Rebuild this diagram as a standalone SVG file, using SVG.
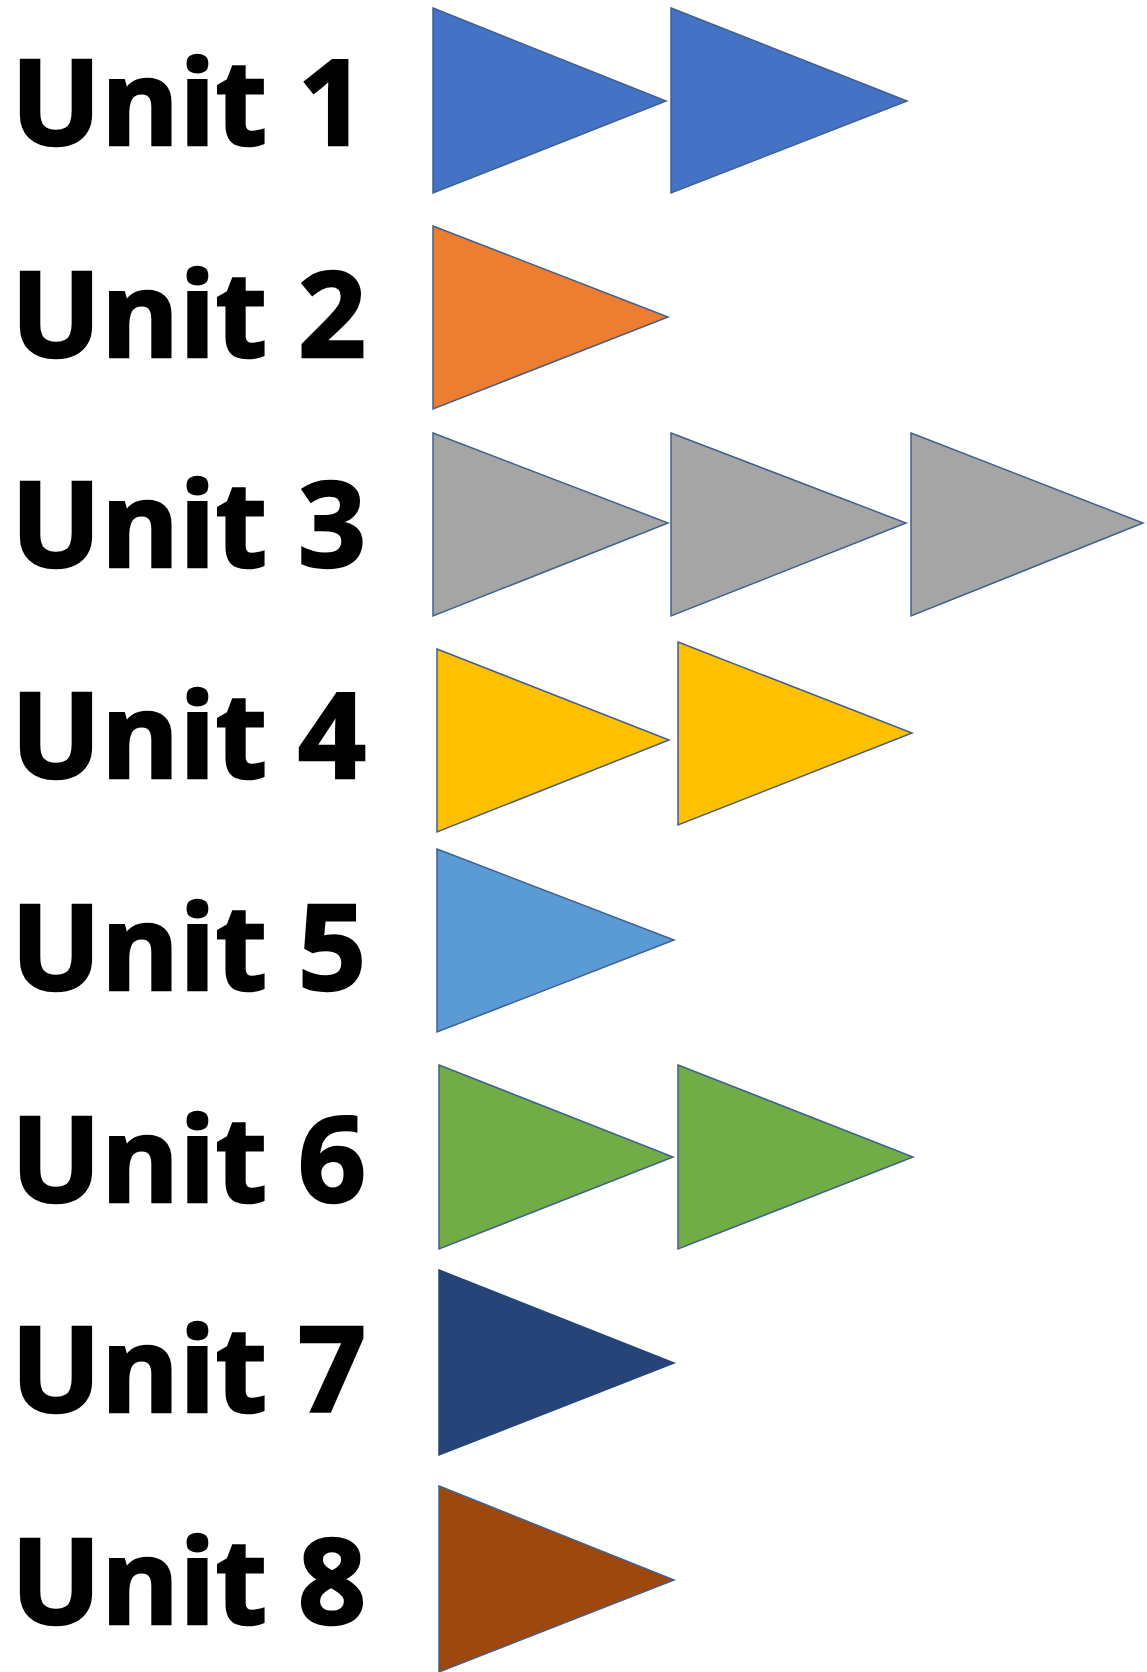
<svg xmlns="http://www.w3.org/2000/svg" width="1147" height="1672" viewBox="0 0 1147 1672">
<style>
.lbl{font-family:"Open Sans","Liberation Sans",sans-serif;font-weight:700;font-size:119px;fill:#000;stroke:#000;stroke-width:2.5;stroke-linejoin:miter}
.tri{stroke:#41608f;stroke-width:1.5;stroke-linejoin:miter}
.u1{fill:#4472C4}.u2{fill:#ED7D31}.u3{fill:#A5A5A5}.u4{fill:#FFC000}
.u5{fill:#5B9BD5}.u6{fill:#70AD47}.u7{fill:#264478}.u8{fill:#9E480E}
</style>
<rect width="1147" height="1672" fill="#fff"/>
<g id="unit1">
<text class="lbl" x="11" y="145">Unit 1</text>
<polygon class="tri u1" points="433,8 666,101 433,193"/>
<polygon class="tri u1" points="671,8 907,101 671,193"/>
</g>
<g id="unit2">
<text class="lbl" x="11" y="357">Unit 2</text>
<polygon class="tri u2" points="433,226 668,317 433,409"/>
</g>
<g id="unit3">
<text class="lbl" x="11" y="567">Unit 3</text>
<polygon class="tri u3" points="433,433 668,523 433,616"/>
<polygon class="tri u3" points="671,433 906,523 671,616"/>
<polygon class="tri u3" points="911,433 1143,523 911,616"/>
</g>
<g id="unit4">
<text class="lbl" x="11" y="778">Unit 4</text>
<polygon class="tri u4" points="437,649 669,740 437,832"/>
<polygon class="tri u4" points="678,642 912,733 678,825"/>
</g>
<g id="unit5">
<text class="lbl" x="11" y="990">Unit 5</text>
<polygon class="tri u5" points="437,849 674,940 437,1032"/>
</g>
<g id="unit6">
<text class="lbl" x="11" y="1202">Unit 6</text>
<polygon class="tri u6" points="439,1065 673,1157 439,1249"/>
<polygon class="tri u6" points="678,1065 913,1157 678,1249"/>
</g>
<g id="unit7">
<text class="lbl" x="11" y="1412">Unit 7</text>
<polygon class="tri u7" points="439,1270 674,1363 439,1455" style="stroke:#264478"/>
</g>
<g id="unit8">
<text class="lbl" x="11" y="1624">Unit 8</text>
<polygon class="tri u8" points="439,1486 674,1580 439,1672"/>
</g>
<g id="connectors"></g>
</svg>
